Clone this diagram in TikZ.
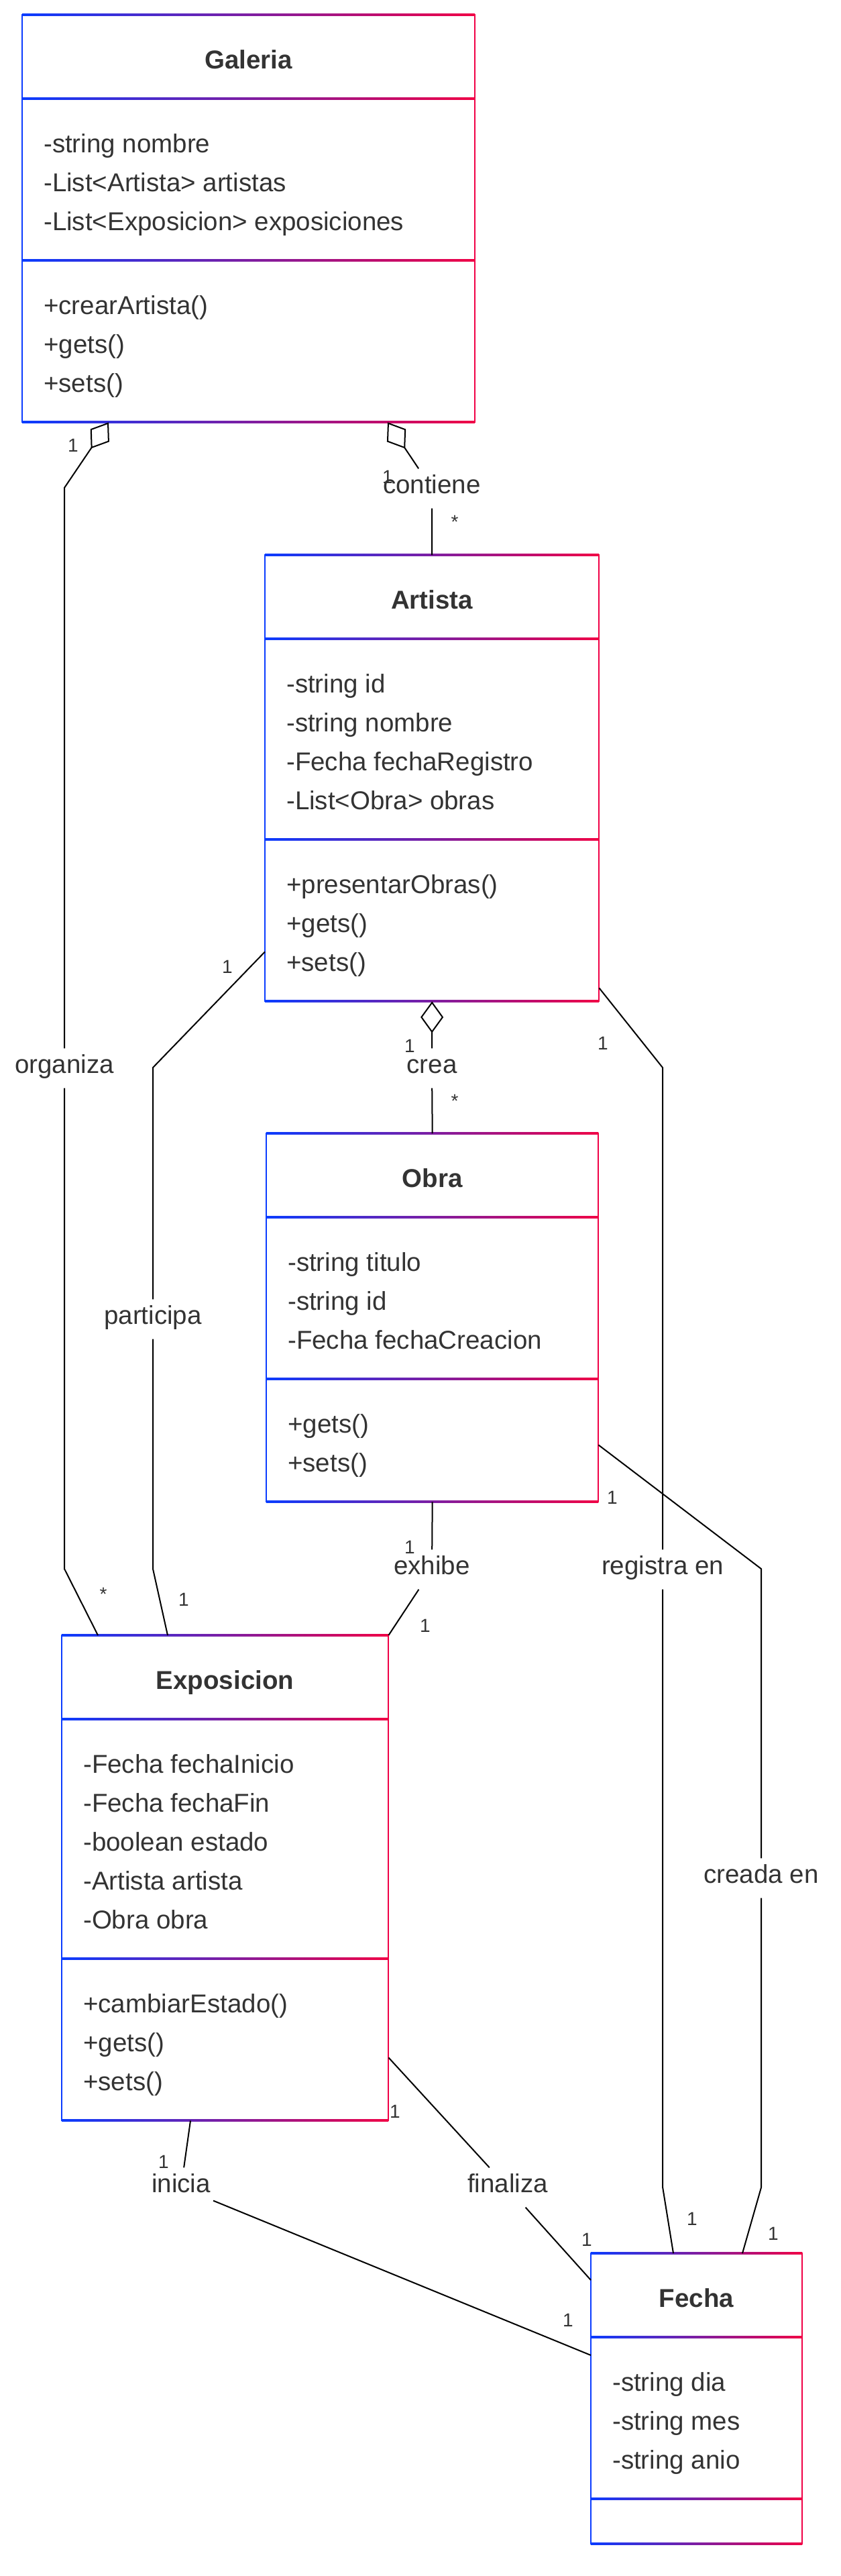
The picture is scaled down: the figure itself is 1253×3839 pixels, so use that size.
\documentclass[tikz,border=0pt]{standalone}
\usepackage{fontspec}
\setmainfont{Liberation Sans}
\usepackage{tikz}
\usetikzlibrary{positioning,arrows.meta}

\definecolor{umlblue}{RGB}{10,60,255}
\definecolor{umlred}{RGB}{240,0,70}
\definecolor{umltext}{RGB}{51,51,51}

\tikzset{
    classtitle/.style={anchor=base, inner sep=0pt, font=\fontsize{38.5}{46}\selectfont\bfseries, text=umltext},
    member/.style={anchor=base west, inner sep=0pt, font=\fontsize{38.5}{46}\selectfont, text=umltext},
    rel/.style={line width=2pt, black},
    aggr/.style={rel, {Diamond[open, length=47pt, width=34pt]}-},
    rellabel/.style={font=\fontsize{38.5}{46}\selectfont, text=umltext, text height=26pt, text depth=11pt, inner xsep=4pt, inner ysep=11pt},
    mult/.style={font=\fontsize{28}{34}\selectfont, text=umltext, inner sep=0pt}
}

% name, left, top, width, title, attributes, number of attributes, methods, number of methods
\newcommand{\umlclass}[9]{
    \pgfmathsetmacro{\umlya}{#3+125}
    \pgfmathsetmacro{\umlyb}{\umlya+67+58*#7}
    \pgfmathsetmacro{\umlyc}{\umlyb+67+58*#9}
    \pgfmathsetmacro{\umlxr}{#2+#4}
    \pgfmathsetmacro{\umlh}{\umlyc-#3}
    \node[inner sep=0pt, minimum width=#4pt, minimum height=\umlh pt, anchor=north west] (#1) at (#2,#3) {};
    \foreach \yy in {#3,\umlya,\umlyb,\umlyc}
        \shade[left color=umlblue, right color=umlred] (#2,\yy-1.2) rectangle (\umlxr,\yy+1.2);
    \fill[umlblue] (#2-1.2,#3-1.2) rectangle (#2+1.2,\umlyc+1.2);
    \fill[umlred] (\umlxr-1.2,#3-1.2) rectangle (\umlxr+1.2,\umlyc+1.2);
    \node[classtitle] (#1-title) at (#2+#4/2,#3+80) {#5};
    \foreach \t [count=\i] in {#6}
        \node[member] (#1-a\i) at (#2+32,\umlya+80+58*\i-58) {\t};
    \foreach \t [count=\i] in {#8}
        \node[member] (#1-m\i) at (#2+32,\umlyb+80+58*\i-58) {\t};
}

\begin{document}
\begin{tikzpicture}[x=1pt,y=-1pt]
    \useasboundingbox (0,0) rectangle (1253,3839);

    \umlclass{galeria}{33}{22}{675}{Galeria}{-string nombre,-List<Artista> artistas,-List<Exposicion> exposiciones}{3}{+crearArtista(),+gets(),+sets()}{3}
    \umlclass{artista}{395}{827}{498}{Artista}{-string id,-string nombre,-Fecha fechaRegistro,-List<Obra> obras}{4}{+presentarObras(),+gets(),+sets()}{3}
    \umlclass{obra}{397}{1689}{495}{Obra}{-string titulo,-string id,-Fecha fechaCreacion}{3}{+gets(),+sets()}{2}
    \umlclass{exposicion}{92}{2437}{487}{Exposicion}{-Fecha fechaInicio,-Fecha fechaFin,-boolean estado,-Artista artista,-Obra obra}{5}{+cambiarEstado(),+gets(),+sets()}{3}
    \umlclass{fecha}{881}{3358}{315}{Fecha}{-string dia,-string mes,-string anio}{3}{}{0}

    % relation labels
    \node[rellabel] (contiene) at (644,728) {contiene};
    \node[rellabel] (organiza) at (96,1592) {organiza};
    \node[rellabel] (crea) at (644,1592) {crea};
    \node[rellabel] (participa) at (228,1966) {participa};
    \node[rellabel] (exhibe) at (644,2339) {exhibe};
    \node[rellabel] (registra) at (988,2339) {registra en};
    \node[rellabel] (creada) at (1135,2799) {creada en};
    \node[rellabel] (inicia) at (270,3260) {inicia};
    \node[rellabel] (finaliza) at (757,3260) {finaliza};

    % aggregations: diamond on the first piece only
    \draw[aggr] ([xshift=129pt]galeria.south west) -- (96,727) -- (organiza);
    \draw[rel] (organiza) -- (96,2338) -- ([xshift=54pt]exposicion.north west);
    \draw[aggr] ([xshift=545pt]galeria.south west) -- (contiene);
    \draw[rel] (contiene) -- (artista.north);
    \draw[aggr] (artista.south) -- (crea);
    \draw[rel] (crea) -- (obra.north);

    \draw[rel] ([yshift=74pt]artista.south west) -- (228,1591) -- (participa) -- (228,2338) -- ([xshift=158pt]exposicion.north west);
    \draw[rel] ([yshift=20pt]artista.south east) -- (988,1591) -- (registra) -- (988,3259) -- ([xshift=123pt]fecha.north west);
    \draw[rel] ([yshift=85pt]obra.south east) -- (1135,2338) -- (creada) -- (1135,3260) -- ([xshift=226pt]fecha.north west);
    \draw[rel] (obra.south) -- (exhibe) -- (exposicion.north east);
    \draw[rel] ([xshift=192pt]exposicion.south west) -- (inicia) -- ([yshift=-152pt]fecha.north west);
    \draw[rel] ([yshift=94pt]exposicion.south east) -- (finaliza) -- ([yshift=-40pt]fecha.north west);

    % multiplicities
    \node[mult] (organiza-src) at (109,664) {1};
    \node[mult] (organiza-dst) at (154,2376) {*};
    \node[mult] (contiene-src) at (578,711) {1};
    \node[mult] (contiene-dst) at (678,778) {*};
    \node[mult] (crea-src) at (611,1559) {1};
    \node[mult] (crea-dst) at (678,1641) {*};
    \node[mult] (participa-src) at (339,1441) {1};
    \node[mult] (participa-dst) at (274,2384) {1};
    \node[mult] (registra-src) at (899,1555) {1};
    \node[mult] (registra-dst) at (1032,3307) {1};
    \node[mult] (creada-src) at (913,2232) {1};
    \node[mult] (creada-dst) at (1153,3329) {1};
    \node[mult] (exhibe-src) at (611,2306) {1};
    \node[mult] (exhibe-dst) at (634,2423) {1};
    \node[mult] (finaliza-src) at (589,3147) {1};
    \node[mult] (finaliza-dst) at (875,3338) {1};
    \node[mult] (inicia-src) at (244,3222) {1};
    \node[mult] (inicia-dst) at (847,3458) {1};
\end{tikzpicture}
\end{document}
